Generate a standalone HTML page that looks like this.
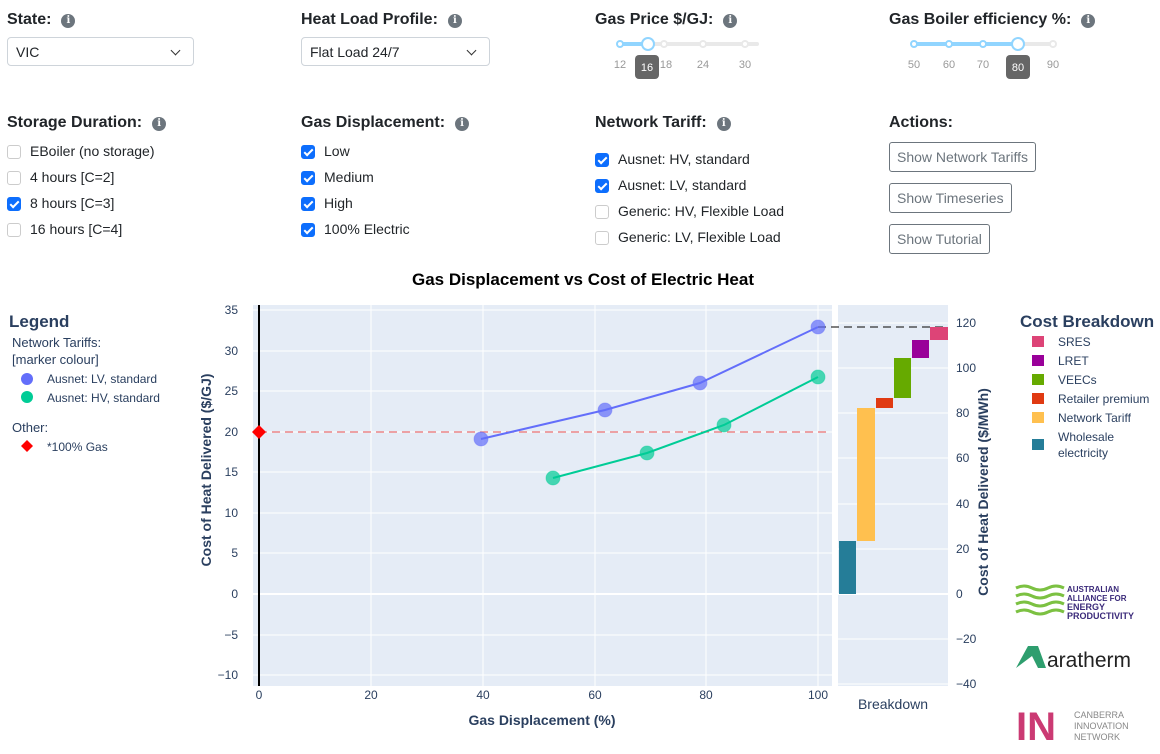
<!DOCTYPE html>
<html><head><meta charset="utf-8"><style>
body{margin:0;width:1160px;height:754px;background:#fff;font-family:"Liberation Sans",sans-serif;color:#212529;position:relative;overflow:hidden}
.a{position:absolute;white-space:nowrap}
.h{font-weight:bold;font-size:16px;color:#212529}
.i{display:inline-block;width:14px;height:14px;border-radius:50%;background:#6c757d;color:#fff;font-size:10px;text-align:center;line-height:14px;font-weight:bold;vertical-align:1px;margin-left:10px;font-family:"DejaVu Serif",serif}
.sel{position:absolute;width:187px;height:29px;border:1px solid #ced4da;border-radius:4px;font-size:14px;line-height:29px;padding-left:8px;box-sizing:border-box}
.sel:after{content:"";position:absolute;right:14px;top:9px;width:6px;height:6px;border-right:1.5px solid #333;border-bottom:1.5px solid #333;transform:rotate(45deg)}
.cb{position:absolute;font-size:14px;line-height:16px}
.cb b{display:inline-block;width:14px;height:14px;border:1px solid #ccc;border-radius:3px;vertical-align:-3px;margin-right:9px;box-sizing:border-box;position:relative}
.cb b.c{background:#0d6efd;border-color:#0d6efd}
.cb b.c:after{content:"";position:absolute;left:4px;top:1px;width:3px;height:7px;border-right:2px solid #fff;border-bottom:2px solid #fff;transform:rotate(45deg)}
.btn{position:absolute;left:889px;height:30px;border:1px solid #6c757d;border-radius:3px;font-size:14px;line-height:28px;padding:0 7px;box-sizing:border-box;color:#6c757d}
</style></head><body>
<div class="a h" style="left:7px;top:11px">State:<span class="i">i</span></div>
<div class="sel" style="left:7px;top:37px">VIC</div>
<div class="a h" style="left:301px;top:11px">Heat Load Profile:<span class="i">i</span></div>
<div class="sel" style="left:301px;top:37px;width:189px">Flat Load 24/7</div>
<div class="a h" style="left:595px;top:11px">Gas Price $/GJ:<span class="i">i</span></div>
<div class="a h" style="left:889px;top:11px">Gas Boiler efficiency %:<span class="i">i</span></div>

<svg class="a" style="left:590px;top:30px" width="570" height="55" font-family="Liberation Sans" font-size="11" fill="#999">
<rect x="30" y="12" width="139" height="4" rx="2" fill="#e9e9e9"/>
<rect x="30" y="12" width="28" height="4" rx="2" fill="#91d5ff"/>
<circle cx="30" cy="14" r="3" fill="#fff" stroke="#91d5ff" stroke-width="2"/>
<circle cx="74" cy="14" r="3" fill="#fff" stroke="#e9e9e9" stroke-width="2"/>
<circle cx="113" cy="14" r="3" fill="#fff" stroke="#e9e9e9" stroke-width="2"/>
<circle cx="155" cy="14" r="3" fill="#fff" stroke="#e9e9e9" stroke-width="2"/>
<circle cx="58" cy="14" r="6" fill="#fff" stroke="#91d5ff" stroke-width="2"/>
<text x="30" y="38" text-anchor="middle">12</text><text x="76" y="38" text-anchor="middle">18</text><text x="113" y="38" text-anchor="middle">24</text><text x="155" y="38" text-anchor="middle">30</text>
<rect x="45" y="25" width="24" height="24" rx="4" fill="#666"/><text x="57" y="41" text-anchor="middle" fill="#fff">16</text>
<rect x="324" y="12" width="139" height="4" rx="2" fill="#e9e9e9"/>
<rect x="324" y="12" width="104" height="4" rx="2" fill="#91d5ff"/>
<circle cx="324" cy="14" r="3" fill="#fff" stroke="#91d5ff" stroke-width="2"/>
<circle cx="359" cy="14" r="3" fill="#fff" stroke="#91d5ff" stroke-width="2"/>
<circle cx="393" cy="14" r="3" fill="#fff" stroke="#91d5ff" stroke-width="2"/>
<circle cx="463" cy="14" r="3" fill="#fff" stroke="#e9e9e9" stroke-width="2"/>
<circle cx="428" cy="14" r="6" fill="#fff" stroke="#91d5ff" stroke-width="2"/>
<text x="324" y="38" text-anchor="middle">50</text><text x="359" y="38" text-anchor="middle">60</text><text x="393" y="38" text-anchor="middle">70</text><text x="463" y="38" text-anchor="middle">90</text>
<rect x="416" y="25" width="24" height="24" rx="4" fill="#666"/><text x="428" y="41" text-anchor="middle" fill="#fff">80</text>
</svg>

<div class="a h" style="left:7px;top:114px">Storage Duration:<span class="i">i</span></div>
<div class="cb" style="left:7px;top:143px"><b></b>EBoiler (no storage)</div>
<div class="cb" style="left:7px;top:169px"><b></b>4 hours [C=2]</div>
<div class="cb" style="left:7px;top:195px"><b class="c"></b>8 hours [C=3]</div>
<div class="cb" style="left:7px;top:221px"><b></b>16 hours [C=4]</div>
<div class="a h" style="left:301px;top:114px">Gas Displacement:<span class="i">i</span></div>
<div class="cb" style="left:301px;top:143px"><b class="c"></b>Low</div>
<div class="cb" style="left:301px;top:169px"><b class="c"></b>Medium</div>
<div class="cb" style="left:301px;top:195px"><b class="c"></b>High</div>
<div class="cb" style="left:301px;top:221px"><b class="c"></b>100% Electric</div>
<div class="a h" style="left:595px;top:114px">Network Tariff:<span class="i">i</span></div>
<div class="cb" style="left:595px;top:151px"><b class="c"></b>Ausnet: HV, standard</div>
<div class="cb" style="left:595px;top:177px"><b class="c"></b>Ausnet: LV, standard</div>
<div class="cb" style="left:595px;top:203px"><b></b>Generic: HV, Flexible Load</div>
<div class="cb" style="left:595px;top:229px"><b></b>Generic: LV, Flexible Load</div>
<div class="a h" style="left:889px;top:114px">Actions:</div>
<div class="btn" style="top:142px">Show Network Tariffs</div>
<div class="btn" style="top:183px">Show Timeseries</div>
<div class="btn" style="top:224px">Show Tutorial</div>

<svg class="a" style="left:0;top:0" width="1160" height="754" font-family="Liberation Sans" font-size="12" fill="#2a3f5f">
<text x="583" y="285" text-anchor="middle" font-size="17" font-weight="bold" fill="#000">Gas Displacement vs Cost of Electric Heat</text>
<rect x="253" y="305" width="579" height="381" fill="#e5ecf6"/>
<rect x="838" y="305" width="110" height="381" fill="#e5ecf6"/>
<g stroke="#fff" stroke-width="1">
<line x1="253" x2="832" y1="310" y2="310"/><line x1="253" x2="832" y1="351" y2="351"/><line x1="253" x2="832" y1="391" y2="391"/><line x1="253" x2="832" y1="432" y2="432"/><line x1="253" x2="832" y1="472" y2="472"/><line x1="253" x2="832" y1="513" y2="513"/><line x1="253" x2="832" y1="553" y2="553"/><line x1="253" x2="832" y1="635" y2="635"/><line x1="253" x2="832" y1="675" y2="675"/>
<line x1="371" x2="371" y1="305" y2="686"/><line x1="483" x2="483" y1="305" y2="686"/><line x1="595" x2="595" y1="305" y2="686"/><line x1="706" x2="706" y1="305" y2="686"/><line x1="818" x2="818" y1="305" y2="686"/>
<line x1="838" x2="948" y1="323" y2="323"/><line x1="838" x2="948" y1="368" y2="368"/><line x1="838" x2="948" y1="413" y2="413"/><line x1="838" x2="948" y1="458" y2="458"/><line x1="838" x2="948" y1="504" y2="504"/><line x1="838" x2="948" y1="549" y2="549"/><line x1="838" x2="948" y1="639" y2="639"/><line x1="838" x2="948" y1="684" y2="684"/>
<line x1="253" x2="832" y1="594" y2="594" stroke-width="2"/><line x1="838" x2="948" y1="594" y2="594" stroke-width="2"/>
</g>
<line x1="259" x2="259" y1="305" y2="686" stroke="#000" stroke-width="2"/>
<line x1="259" x2="828" y1="432" y2="432" stroke="#ef5350" stroke-dasharray="8,5" stroke-width="1.3" opacity="0.8"/>
<line x1="818" x2="948" y1="327" y2="327" stroke="#333" stroke-dasharray="8,5" stroke-width="1.3"/>
<polyline points="481,439 605,410 700,383 818,327" fill="none" stroke="#636efa" stroke-width="2"/>
<polyline points="553,478 647,453 724,425 818,377" fill="none" stroke="#00cc96" stroke-width="2"/>
<g fill="#636efa" fill-opacity="0.7" stroke="#636efa" stroke-opacity="0.4"><circle cx="481" cy="439" r="7"/><circle cx="605" cy="410" r="7"/><circle cx="700" cy="383" r="7"/><circle cx="818" cy="327" r="7"/></g>
<g fill="#00cc96" fill-opacity="0.7" stroke="#00cc96" stroke-opacity="0.4"><circle cx="553" cy="478" r="7"/><circle cx="647" cy="453" r="7"/><circle cx="724" cy="425" r="7"/><circle cx="818" cy="377" r="7"/></g>
<path d="M259 425 L266 432 L259 439 L252 432Z" fill="#f00"/>
<rect x="839" y="541" width="17" height="53" fill="#257d98"/>
<rect x="857" y="408" width="18" height="133" fill="#ffc04f"/>
<rect x="876" y="398" width="17" height="10" fill="#e03a12"/>
<rect x="894" y="358" width="17" height="40" fill="#66aa00"/>
<rect x="912" y="340" width="17" height="18" fill="#990099"/>
<rect x="930" y="327" width="18" height="13" fill="#dd4477"/>
<g text-anchor="end"><text x="238" y="314">35</text><text x="238" y="355">30</text><text x="238" y="395">25</text><text x="238" y="436">20</text><text x="238" y="476">15</text><text x="238" y="517">10</text><text x="238" y="557">5</text><text x="238" y="598">0</text><text x="238" y="639">−5</text><text x="238" y="679">−10</text></g>
<g text-anchor="middle"><text x="259" y="699">0</text><text x="371" y="699">20</text><text x="483" y="699">40</text><text x="595" y="699">60</text><text x="706" y="699">80</text><text x="818" y="699">100</text><text x="893" y="709" font-size="14">Breakdown</text></g>
<g><text x="956" y="327">120</text><text x="956" y="372">100</text><text x="956" y="417">80</text><text x="956" y="462">60</text><text x="956" y="508">40</text><text x="956" y="553">20</text><text x="956" y="598">0</text><text x="956" y="643">−20</text><text x="956" y="688">−40</text></g>
<text x="542" y="725" text-anchor="middle" font-size="14" font-weight="bold">Gas Displacement (%)</text>
<text transform="translate(211,470) rotate(-90)" text-anchor="middle" font-size="14" font-weight="bold">Cost of Heat Delivered ($/GJ)</text>
<text transform="translate(988,492) rotate(-90)" text-anchor="middle" font-size="14" font-weight="bold">Cost of Heat Delivered ($/MWh)</text>
<text x="9" y="327" font-size="17" font-weight="bold">Legend</text>
<text x="12" y="347" font-size="13">Network Tariffs:</text>
<text x="12" y="364" font-size="13">[marker colour]</text>
<circle cx="27" cy="379" r="6" fill="#636efa"/><text x="47" y="383">Ausnet: LV, standard</text>
<circle cx="27" cy="397" r="6" fill="#00cc96"/><text x="47" y="402">Ausnet: HV, standard</text>
<text x="12" y="432" font-size="13">Other:</text>
<path d="M27 440 L33 446 L27 452 L21 446Z" fill="#f00"/><text x="47" y="451">*100% Gas</text>
<text x="1020" y="327" font-size="17" font-weight="bold">Cost Breakdown</text>
<rect x="1032" y="336" width="12" height="11" fill="#dd4477"/><text x="1058" y="346">SRES</text>
<rect x="1032" y="355" width="12" height="11" fill="#990099"/><text x="1058" y="365">LRET</text>
<rect x="1032" y="374" width="12" height="11" fill="#66aa00"/><text x="1058" y="384">VEECs</text>
<rect x="1032" y="393" width="12" height="11" fill="#e03a12"/><text x="1058" y="403">Retailer premium</text>
<rect x="1032" y="412" width="12" height="11" fill="#ffc04f"/><text x="1058" y="422">Network Tariff</text>
<rect x="1032" y="439" width="12" height="11" fill="#257d98"/><text x="1058" y="441">Wholesale</text><text x="1058" y="457">electricity</text>
<g stroke="#7cc142" stroke-width="3" fill="none"><path d="M1016 588 q8 -4 16 0 t16 0 t16 0"/><path d="M1016 596 q8 -4 16 0 t16 0 t16 0"/><path d="M1016 604 q8 -4 16 0 t16 0 t16 0"/><path d="M1016 612 q8 -4 16 0 t16 0 t16 0"/></g>
<g fill="#3b2a7a" font-weight="bold" font-size="8"><text x="1067" y="592">AUSTRALIAN</text><text x="1067" y="601">ALLIANCE FOR</text><text x="1067" y="610" font-size="9">ENERGY</text><text x="1067" y="619" font-size="9">PRODUCTIVITY</text></g>
<path d="M1016 668 L1028 646 L1038 646 L1046 668 L1038 668 L1032 656 Z" fill="#2e9e6e"/>
<text x="1047" y="667" font-size="21" fill="#222">aratherm</text>
<text x="1016" y="740" font-size="40" font-weight="bold" fill="#c2185b" opacity="0.85">IN</text>
<g fill="#888" font-size="9"><text x="1074" y="718">CANBERRA</text><text x="1074" y="729">INNOVATION</text><text x="1074" y="740">NETWORK</text></g>
</svg>
</body></html>
